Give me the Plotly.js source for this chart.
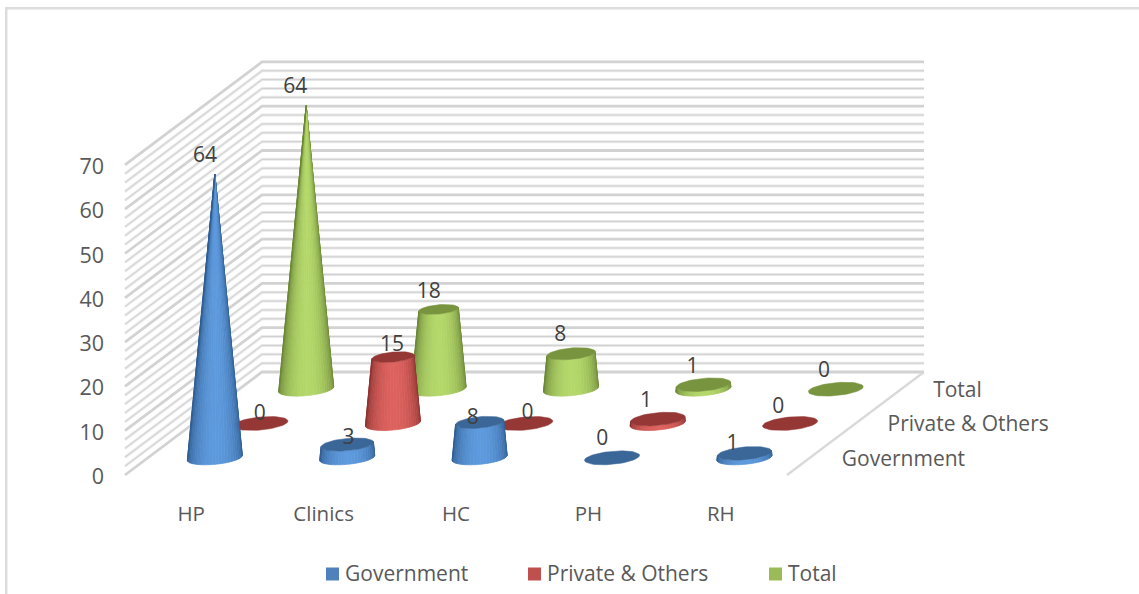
<!DOCTYPE html>
<html>
<head>
<meta charset="utf-8">
<script src="https://cdn.plot.ly/plotly-3.0.1.min.js"></script>
<style>html,body{margin:0;padding:0;background:#fff}#chart{width:1139px;height:594px}</style>
</head>
<body>
<div id="chart"></div>
<script>
// ---- data ----
const categories = ["HP", "Clinics", "HC", "PH", "RH"];
const seriesNames = ["Government", "Private & Others", "Total"];
const government = [64, 3, 8, 0, 1];
const privateOthers = [0, 15, 0, 1, 0];
const total = [64, 18, 8, 1, 0];
const valueTicks = [0, 10, 20, 30, 40, 50, 60, 70];

// ---- styles ----
const FONT = '"Open Sans", sans-serif';
const edgeColors = ["#2f5d92", "#8d3231", "#6b8636"];
const lightColors = ["#5d99dd", "#dd625e", "#b4d86a"];
const capColors = ["#3b6698", "#943735", "#78943e"];
const legendColors = ["#4f81bd", "#c0504d", "#9bbb59"];
const labelNudges = [
  [[-9,-18],[2,-6],[-6,-4],[-9,-18],[-11,-9]],
  [[0,-9],[0,-11],[3,-10],[-11,-17],[-11,-16]],
  [[-10,-18],[-9,-17],[-10,-18],[-10,-17],[-11,-17]]
];
const allSeries = [government, privateOthers, total];
const vMax = Math.max(...allSeries.flat());

// ---- oblique projection of the 3D box onto the pixel-ranged axes ----
// u: category position, d: depth 0..1 across the floor, v: value
const X0 = 125, Y0 = 475, PER_CAT = 132.4, DX = 137, DY = 103, PER_UNIT = 4.43;
const CONE_SHIFT = 0.8;
const proj = (u, d, v) => [X0 + u * PER_CAT + d * DX, Y0 - d * DY - v * PER_UNIT];
const depth = i => (i + 0.5) / seriesNames.length;
const R = 27.6, SQUASH = 0.235, TILT = 5.5 * Math.PI / 180;

function hexMix(a, b, f) {
  const p = s => [1,3,5].map(i => parseInt(s.substr(i,2),16));
  const A = p(a), B = p(b);
  return "rgb(" + A.map((c,i) => Math.round(c + (B[i]-c)*f)).join(",") + ")";
}
function ring(c, r, t) {
  const ex = r * Math.cos(t), ey = SQUASH * r * Math.sin(t);
  return [c[0] + CONE_SHIFT + ex*Math.cos(TILT) + ey*Math.sin(TILT), c[1] + ey*Math.cos(TILT) - ex*Math.sin(TILT)];
}
const traces = [];

// walls
function wallTrace(step, skip, color, width) {
  const xs = [], ys = [];
  for (let v = 0; v <= 70; v += step) {
    if (skip && v % skip === 0) continue;
    const a = proj(0,0,v), b = proj(0,1,v), c = proj(5,1,v);
    xs.push(a[0], b[0], c[0], null);
    ys.push(a[1], b[1], c[1], null);
  }
  traces.push({x:xs, y:ys, mode:"lines", line:{color:color, width:width}, hoverinfo:"skip", showlegend:false});
}
wallTrace(2, 10, "#e9e9e9", 3);
wallTrace(2, 10, "#cfcfcf", 1);
wallTrace(10, 0, "#d2d2d2", 2.8);
// floor right edge
{
  const a = proj(5,0,0), b = proj(5,1,0);
  traces.push({x:[a[0],b[0]], y:[a[1],b[1]], mode:"lines", line:{color:"#d9d9d9", width:2.2}, hoverinfo:"skip", showlegend:false});
}

// cones, back row first
const FACETS = 28;
for (let s = allSeries.length - 1; s >= 0; s--) {
  allSeries[s].forEach((val, c) => {
    const base = proj(c + 0.5, depth(s), 0);
    const top = proj(c + 0.5, depth(s), val);
    const rTop = R * (1 - val / vMax);
    if (val > 0) {
      for (let i = 0; i < FACETS; i++) {
        const t0 = -0.12 + (Math.PI + 0.24) * i / FACETS;
        const t1 = -0.12 + (Math.PI + 0.24) * (i + 1) / FACETS;
        const mid = (t0 + t1) / 2;
        const f = Math.pow(Math.max(0, Math.sin(mid)), 1.2);
        const col = hexMix(edgeColors[s], lightColors[s], f);
        const p = [ring(base,R,t0), ring(base,R,t1), ring(top,rTop,t1), ring(top,rTop,t0)];
        traces.push({x:p.map(q=>q[0]).concat(p[0][0]), y:p.map(q=>q[1]).concat(p[0][1]),
          mode:"lines", fill:"toself", fillcolor:col, line:{color:col, width:0.7},
          hoverinfo:"skip", showlegend:false});
      }
    }
    if (rTop > 0.01) {
      const ex = [], ey = [];
      for (let i = 0; i <= 60; i++) {
        const q = ring(top, rTop, 2 * Math.PI * i / 60);
        ex.push(q[0]); ey.push(q[1]);
      }
      traces.push({x:ex, y:ey, mode:"lines", fill:"toself", fillcolor:capColors[s],
        line:{color:capColors[s], width:0.5}, hoverinfo:"skip", showlegend:false});
    }
  });
}

// data labels
allSeries.forEach((vals, s) => {
  const pts = vals.map((v, c) => {
    const q = proj(c + 0.5, depth(s), v);
    return [q[0] + labelNudges[s][c][0], q[1] + labelNudges[s][c][1]];
  });
  traces.push({x:pts.map(p=>p[0]), y:pts.map(p=>p[1]), text:vals.map(String), mode:"text",
    textposition:"middle center", textfont:{family:FONT, size:21, color:"#404040"},
    hoverinfo:"skip", showlegend:false});
});

// series (depth) axis labels
{
  const pts = seriesNames.map((n, s) => proj(5, depth(s), 0));
  traces.push({x:pts.map(p=>p[0] + 32), y:pts.map(p=>p[1] + 2.6), text:seriesNames, mode:"text",
    textposition:"middle right", textfont:{family:FONT, size:21, color:"#595959"},
    hoverinfo:"skip", showlegend:false});
}

// legend row
const legendMarkX = [332.5, 534.5, 775.5];
const legendTextX = [345, 547, 788];
seriesNames.forEach((n, s) => {
  traces.push({x:[legendMarkX[s]], y:[574], name:n, mode:"markers",
    marker:{symbol:"square", size:13, color:legendColors[s]},
    hoverinfo:"skip", showlegend:false});
  traces.push({x:[legendTextX[s]], y:[576], text:[n], mode:"text",
    textposition:"middle right", textfont:{family:FONT, size:21, color:"#595959"},
    hoverinfo:"skip", showlegend:false});
});

const layout = {
  width:1139, height:594, margin:{l:0,r:0,t:0,b:0},
  paper_bgcolor:"#fff", plot_bgcolor:"#fff", showlegend:false,
  xaxis:{range:[0,1139], domain:[0,1], anchor:"free", position:1-499/594, side:"bottom",
    tickmode:"array", tickvals:categories.map((c,i)=>proj(i+0.5,0,0)[0]), ticktext:categories,
    showgrid:false, zeroline:false, showline:false, ticks:"",
    tickfont:{family:FONT, size:20.5, color:"#595959"}},
  yaxis:{range:[594,0], domain:[0,1], anchor:"free", position:104/1139, side:"left",
    tickmode:"array", tickvals:valueTicks.map(v=>proj(0,0,v)[1]+1.5), ticktext:valueTicks.map(String),
    showgrid:false, zeroline:false, showline:false, ticks:"",
    tickfont:{family:FONT, size:21.5, color:"#595959"}},
  shapes:[{type:"path", path:"M6.2,594 L6.2,8.3 L1139,8.3", xref:"x", yref:"y",
    line:{color:"#dcdcdc", width:2.5}, layer:"below"}]
};
Plotly.newPlot("chart", traces, layout, {displayModeBar:false, staticPlot:true});
</script>
</body>
</html>
